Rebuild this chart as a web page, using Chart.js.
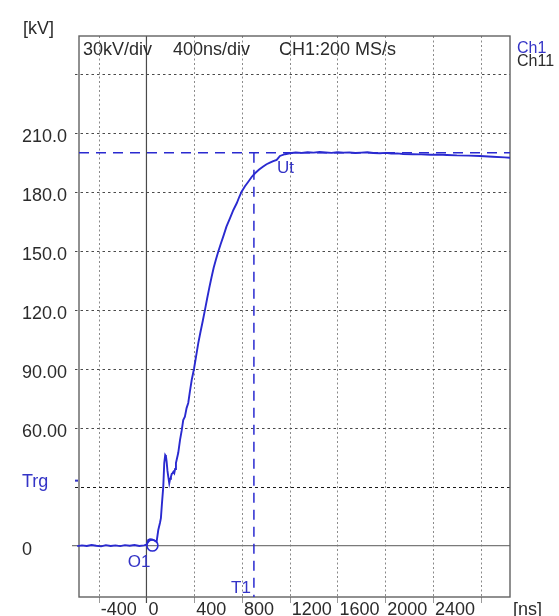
<!DOCTYPE html>
<html>
<head>
<meta charset="utf-8">
<script src="https://cdn.jsdelivr.net/npm/chart.js@4/dist/chart.umd.min.js"></script>
<style>
  html, body { margin: 0; padding: 0; background: #fff; }
  canvas { display: block; }
</style>
</head>
<body>
<canvas id="scope" width="559" height="616"></canvas>
<script>
// Channel 1 record: time in ns, voltage in kV
const timeNs = [
  -624, -580, -540, -500, -460, -420, -380, -340, -300, -260, -220, -180, -140, -100, -60, -20, 0,
  8, 15, 30, 46, 65, 85, 99, 113, 121, 130, 141, 149, 157, 163, 169, 176, 183, 191, 198, 205,
  212, 219, 226, 233, 240, 247, 256, 266, 281, 295, 308, 322, 336, 350, 364, 379, 398, 416,
  434, 452, 472, 490, 508, 527, 546, 563, 582, 601, 622, 643, 670, 700, 728, 756, 777, 797,
  825, 853, 881, 909, 944, 978, 1006, 1034, 1062, 1091, 1118, 1160, 1202, 1250, 1300, 1350,
  1400, 1450, 1500, 1550, 1600, 1650, 1700, 1750, 1800, 1850, 1900, 1956, 2000, 2050, 2100,
  2150, 2232, 2300, 2380, 2450, 2517, 2600, 2700, 2794, 2900, 3000, 3045
];
const voltageKv = [
  0.2, -0.3, 0.1, -0.2, 0.3, -0.1, -0.4, 0.2, -0.2, 0.1, -0.3, 0.2, -0.1, 0.3, -0.2, 0.1, 0.4,
  1.5, 2.8, 3.2, 3.1, 2.6, 1.9, 7.9, 11.5, 14, 21.6, 30, 42, 46.1, 45.5, 42.7, 38, 35, 31.8, 34, 35,
  36.5, 36.9, 37.6, 36.9, 39, 42, 44.5, 47.1, 53.7, 58.5, 63.9, 65.6, 70, 72.6, 78.5, 84.3, 89.9, 96.5,
  103.1, 108.6, 114.5, 120, 125.7, 131.5, 136.9, 141.5, 145.7, 149.6, 153.6, 157.3, 162.4, 166.7, 170.9, 174.3, 177.5, 180.2,
  183, 185.3, 187.7, 189.6, 191.5, 193, 194.2, 195, 195.8, 196.4, 198.4, 199.3, 199.8, 200.2, 200.0, 200.3,
  200.1, 200.4, 200.2, 200.0, 200.3, 200.1, 200.2, 199.9, 200.1, 200.3, 199.9, 199.8, 200.0, 199.6, 199.7,
  199.4, 199.3, 199.2, 199.0, 199.1, 198.9, 198.7, 198.6, 198.4, 198.0, 197.7, 197.5
];

// Divisions and their labels
const xGridNs = [-400, 0, 400, 800, 1200, 1600, 2000, 2400, 2800];
const xTickLabels = ['-400', '0', '400', '800', '1200', '1600', '2000', '2400', ''];
const yGridKv = [0, 30, 60, 90, 120, 150, 180, 210, 240];
const yTickLabels = ['0', 'Trg', '60.00', '90.00', '120.0', '150.0', '180.0', '210.0', ''];
const trgKv = 30;

// Cursor readings
const utKv = 200;
const t1Ns = 900;
const o1Ns = 50;

// Screen extent
const xRange = [-565, 3045];
const yRange = [-26.2, 259.5];

const BLUE = '#2a2ad0';
const TEXT_BLUE = '#3434c6';
const INK = '#2b2b2b';
const FONT = '"Liberation Sans", Arial, Helvetica, sans-serif';

const trace = timeNs.map((t, i) => ({ x: t, y: voltageKv[i] }));

function seg(ctx, x1, y1, x2, y2) {
  ctx.beginPath();
  ctx.moveTo(x1, y1);
  ctx.lineTo(x2, y2);
  ctx.stroke();
}

const scopeScreen = {
  id: 'scopeScreen',
  beforeDatasetsDraw(chart) {
    const { ctx, chartArea: a, scales: { x, y } } = chart;
    ctx.save();
    ctx.lineWidth = 1;

    // vertical divisions
    xGridNs.forEach(v => {
      if (v === 0) return;
      const px = Math.round(x.getPixelForValue(v)) + 0.5;
      ctx.strokeStyle = '#8a8a8a';
      ctx.setLineDash([2, 2.5]);
      seg(ctx, px, a.top, px, a.bottom);
      ctx.setLineDash([]);
      ctx.strokeStyle = '#9a9a9a';
      seg(ctx, px, a.bottom, px, a.bottom + 6);
    });

    // horizontal divisions
    yGridKv.forEach(v => {
      if (v === 0) return;
      const py = Math.round(y.getPixelForValue(v)) + 0.5;
      ctx.strokeStyle = v === trgKv ? '#1a1a1a' : '#4a4a4a';
      ctx.setLineDash(v === trgKv ? [3, 3] : [2.5, 3]);
      seg(ctx, a.left - 4, py, a.right, py);
    });
    ctx.setLineDash([]);

    // zero axes
    const y0 = y.getPixelForValue(0);
    const x0 = x.getPixelForValue(0);
    ctx.lineWidth = 1.2;
    ctx.strokeStyle = '#7a7a7a';
    seg(ctx, a.left - 7, y0, a.right, y0);
    ctx.strokeStyle = '#4a4a4a';
    seg(ctx, x0, a.top, x0, a.bottom + 6);

    // screen border
    ctx.lineWidth = 1.4;
    ctx.strokeStyle = '#626262';
    ctx.strokeRect(a.left, a.top, a.right - a.left, a.bottom - a.top);

    // trigger marker
    ctx.fillStyle = TEXT_BLUE;
    ctx.fillRect(a.left - 4, y.getPixelForValue(trgKv) - 7, 3, 2);
    ctx.restore();
  },
  afterDatasetsDraw(chart) {
    const { ctx, chartArea: a, scales: { x, y } } = chart;
    ctx.save();
    ctx.textAlign = 'left';
    ctx.textBaseline = 'alphabetic';

    // header
    ctx.fillStyle = INK;
    ctx.font = '18px ' + FONT;
    ctx.fillText('[kV]', 23, 33.5);
    ctx.fillText('30kV/div', 83, 55);
    ctx.fillText('400ns/div', 173, 55);
    ctx.fillText('CH1:200 MS/s', 279, 55);

    // channel list
    ctx.font = '16px ' + FONT;
    ctx.fillStyle = TEXT_BLUE;
    ctx.fillText('Ch1', 517, 53);
    ctx.fillStyle = INK;
    ctx.fillText('Ch11', 517, 66);

    // voltage labels
    ctx.font = '18px ' + FONT;
    ctx.textBaseline = 'middle';
    yGridKv.forEach((v, i) => {
      if (!yTickLabels[i]) return;
      ctx.fillStyle = v === trgKv ? TEXT_BLUE : INK;
      const off = v === trgKv ? -5 : 4;
      ctx.fillText(yTickLabels[i], 22, y.getPixelForValue(v) + off);
    });

    // time labels
    ctx.textBaseline = 'alphabetic';
    ctx.fillStyle = INK;
    xGridNs.forEach((v, i) => {
      if (!xTickLabels[i]) return;
      ctx.fillText(xTickLabels[i], x.getPixelForValue(v) + 2, 615);
    });
    ctx.fillText('[ns]', 513, 615);

    // cursor names
    ctx.font = '17px ' + FONT;
    ctx.fillStyle = TEXT_BLUE;
    const t1px = x.getPixelForValue(t1Ns);
    const utpx = y.getPixelForValue(utKv);
    ctx.fillText('Ut', t1px + 23, utpx + 20);
    ctx.textAlign = 'right';
    ctx.fillText('T1', t1px - 3, a.bottom - 4);
    ctx.fillText('O1', x.getPixelForValue(o1Ns) - 2, y.getPixelForValue(0) + 21.5);
    ctx.restore();
  }
};

new Chart(document.getElementById('scope'), {
  type: 'line',
  data: {
    datasets: [
      {
        label: 'Ch1',
        data: trace,
        borderColor: BLUE,
        borderWidth: 1.9,
        pointRadius: 0,
        tension: 0,
        clip: false
      },
      {
        label: 'Ut',
        data: [{ x: xRange[0], y: utKv }, { x: xRange[1], y: utKv }],
        borderColor: BLUE,
        borderWidth: 1.5,
        borderDash: [10, 7],
        pointRadius: 0
      },
      {
        label: 'T1',
        data: [{ x: t1Ns, y: utKv }, { x: t1Ns, y: yRange[0] }],
        borderColor: BLUE,
        borderWidth: 1.5,
        borderDash: [10, 7],
        pointRadius: 0
      },
      {
        label: 'O1',
        data: [{ x: o1Ns, y: 0 }],
        showLine: false,
        pointStyle: 'circle',
        pointRadius: 5.5,
        pointBorderWidth: 1.6,
        pointBorderColor: BLUE,
        pointBackgroundColor: 'rgba(0,0,0,0)'
      }
    ]
  },
  options: {
    responsive: false,
    devicePixelRatio: 1,
    animation: false,
    layout: { padding: { left: 79, right: 49, top: 36, bottom: 19 } },
    plugins: { legend: { display: false }, tooltip: { enabled: false } },
    events: [],
    scales: {
      x: { type: 'linear', min: xRange[0], max: xRange[1], display: false },
      y: { type: 'linear', min: yRange[0], max: yRange[1], display: false }
    }
  },
  plugins: [scopeScreen]
});
</script>
</body>
</html>
